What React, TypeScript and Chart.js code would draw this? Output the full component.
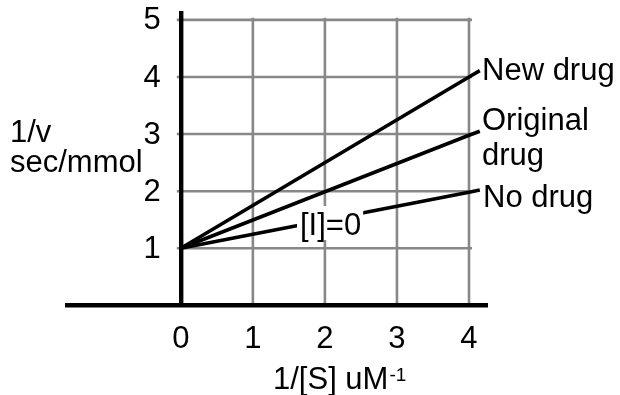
import React, { useEffect, useRef } from 'react';
import { Chart, registerables } from 'chart.js';

Chart.register(...registerables);

// ---- data ----
const xPoints = [0, 4, 4.15];
const newDrug = [1, 4.0, 4.11];
const originalDrug = [1, 2.98, 3.05];
const noDrug = [1, 1.98, 2.02];
const seriesNames = ['New drug', 'Original drug', 'No drug'];
const xTicks = [0, 1, 2, 3, 4];
const yTicks = [1, 2, 3, 4, 5];
const xRange = [-1.58, 4.257];
const yRange = [0, 5.12];

const FONT_FAMILY = '"Liberation Sans", Arial, Helvetica, sans-serif';
const FONT = `31px ${FONT_FAMILY}`;

const gridPlugin = {
  id: 'customGrid',
  beforeDraw(chart: any) {
    const { ctx, scales } = chart;
    const x = scales.x;
    const y = scales.y;
    ctx.save();
    ctx.strokeStyle = '#888888';
    ctx.lineWidth = 2.6;
    ctx.beginPath();
    const top = y.getPixelForValue(yTicks[yTicks.length - 1]) - 2;
    const bottom = y.getPixelForValue(0);
    for (const v of xTicks) {
      const px = x.getPixelForValue(v);
      ctx.moveTo(px, bottom);
      ctx.lineTo(px, top);
    }
    const left = x.getPixelForValue(0) - 4;
    const right = x.getPixelForValue(xTicks[xTicks.length - 1]) + 3;
    for (const v of yTicks) {
      const py = y.getPixelForValue(v);
      ctx.moveTo(left, py);
      ctx.lineTo(right, py);
    }
    ctx.stroke();
    ctx.restore();
  },
};

const textPlugin = {
  id: 'texts',
  afterDraw(chart: any) {
    const { ctx, scales } = chart;
    const x = scales.x;
    const y = scales.y;
    ctx.save();
    ctx.font = FONT;
    ctx.fillStyle = '#000';

    // y tick labels, placed from the y scale
    ctx.textAlign = 'right';
    ctx.textBaseline = 'middle';
    const axisX = x.getPixelForValue(0);
    for (const t of y.ticks) {
      ctx.fillText(String(t.value), axisX - 20, y.getPixelForValue(t.value) + 1);
    }

    ctx.textAlign = 'left';
    ctx.textBaseline = 'alphabetic';
    // [I]=0 label with white background
    const iLabel = '[I]=0';
    const w = ctx.measureText(iLabel).width;
    ctx.fillStyle = '#fff';
    ctx.fillRect(297, 206, w + 5, 34);
    ctx.fillStyle = '#000';
    ctx.fillText(iLabel, 300, 235);

    // series labels
    ctx.fillText(seriesNames[0], 482, 80);
    ctx.fillText('Original', 482, 130);
    ctx.fillText('drug', 482, 165);
    ctx.fillText(seriesNames[2], 483, 207);

    // y title
    ctx.fillText('1/v', 10, 142);
    ctx.fillText('sec/mmol', 10, 172);

    // x title with superscript
    const base = '1/[S] uM';
    ctx.fillText(base, 273, 389);
    const bw = ctx.measureText(base).width;
    ctx.font = `19px ${FONT_FAMILY}`;
    ctx.fillText('-1', 273 + bw + 1, 381);
    ctx.restore();
  },
};

function makeData(ys: number[]) {
  return xPoints.map((x, i) => ({ x, y: ys[i] }));
}

export default function App() {
  const ref = useRef<HTMLCanvasElement>(null);
  useEffect(() => {
    document.body.style.margin = '0';
    const canvas = ref.current!;
    const lineStyle = {
      borderColor: '#000',
      borderWidth: 3.6,
      pointRadius: 0,
      tension: 0,
      fill: false,
    };
    const chart = new Chart(canvas, {
      type: 'line',
      data: {
        datasets: [
          { label: seriesNames[0], data: makeData(newDrug), ...lineStyle },
          { label: seriesNames[1], data: makeData(originalDrug), ...lineStyle },
          { label: seriesNames[2], data: makeData(noDrug), ...lineStyle },
        ],
      },
      options: {
        animation: false,
        responsive: false,
        maintainAspectRatio: false,
        layout: { padding: { left: 67, right: 132.5, top: 13, bottom: 89.6 } },
        plugins: { legend: { display: false }, tooltip: { enabled: false } },
        scales: {
          x: {
            type: 'linear',
            min: xRange[0],
            max: xRange[1],
            position: { y: 0 } as any,
            afterBuildTicks: (s: any) => {
              s.ticks = xTicks.map((v) => ({ value: v }));
            },
            grid: { display: false, drawTicks: false },
            border: { display: true, color: '#000', width: 4.4 },
            ticks: {
              color: '#000',
              font: { family: FONT_FAMILY, size: 31, lineHeight: 1.2 },
              padding: 15,
              maxRotation: 0,
              autoSkip: false,
            },
          },
          y: {
            type: 'linear',
            min: yRange[0],
            max: yRange[1],
            position: { x: 0 } as any,
            afterBuildTicks: (s: any) => {
              s.ticks = yTicks.map((v) => ({ value: v }));
            },
            grid: { display: false, drawTicks: false },
            border: { display: true, color: '#000', width: 4.4 },
            ticks: {
              display: false,
              font: { family: FONT_FAMILY, size: 31, lineHeight: 0.8 },
              padding: 0,
              autoSkip: false,
            },
          },
        },
      },
      plugins: [gridPlugin, textPlugin],
    });
    return () => chart.destroy();
  }, []);
  return (
    <div style={{ position: 'absolute', left: 0, top: 0, width: 620, height: 395 }}>
      <canvas ref={ref} width={620} height={395} style={{ width: 620, height: 395 }} />
    </div>
  );
}
